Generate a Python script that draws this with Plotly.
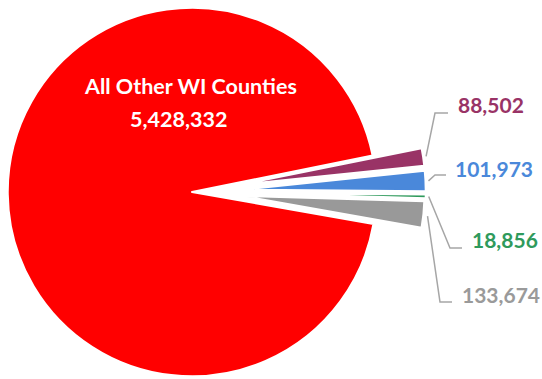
import math
import plotly.graph_objects as go

# ---- data ----
values = [5428332, 88502, 101973, 18856, 133674]
main_label = "All Other WI Counties"
slice_colors = ["#FF0000", "#993366", "#4A88DA", "#2F9A5C", "#999999"]
label_colors = ["#FFFFFF", "#993366", "#4A88DA", "#2F9A5C", "#9A9A9A"]
exploded = [False, True, True, True, True]

# ---- layout constants (pixels) ----
W, H = 542, 379
CX, CY, R = 192.0, 192.0, 184.25
PULL_PX = 49.5
ROTATION = 100.0
FONT = "Lato"


def px_x(x):
    return x / W


def px_y(y):
    return 1 - y / H


def fmt(v):
    return f"{v:,}"


total = sum(values)

# bisector angle of every slice (math convention), slices run clockwise
bisectors = []
acc = 90 - ROTATION
for v in values:
    span = 360.0 * v / total
    bisectors.append(acc - span / 2)
    acc -= span


def domain_for(cx, cy, r):
    x0, x1 = (cx - r) / W, (cx + r) / W
    y0, y1 = 1 - (cy + r) / H, 1 - (cy - r) / H
    return dict(x=[max(0.0, x0), min(1.0, x1)], y=[max(0.0, y0), min(1.0, y1)])


fig = go.Figure()

# one pie per slice so exploded slices can be offset along their own bisector
for i, v in enumerate(values):
    ang = math.radians(bisectors[i])
    off = PULL_PX if exploded[i] else 0.0
    cx = CX + off * math.cos(ang)
    cy = CY - off * math.sin(ang)
    fig.add_trace(go.Pie(
        values=values,
        sort=False,
        direction="clockwise",
        rotation=ROTATION,
        marker=dict(
            colors=[slice_colors[j] if j == i else "rgba(0,0,0,0)" for j in range(len(values))],
            line=dict(color="white", width=[2 if j == i else 0 for j in range(len(values))]),
        ),
        textinfo="none",
        hoverinfo="skip",
        showlegend=False,
        domain=domain_for(cx, cy, R),
    ))

annotations = []
shapes = []

# label inside the large slice
annotations.append(dict(
    x=px_x(190), y=px_y(86), xref="paper", yref="paper",
    text=main_label, showarrow=False, xanchor="center", yanchor="middle",
    font=dict(family=FONT, size=21.5, color=label_colors[0], weight=700),
))
annotations.append(dict(
    x=px_x(178.5), y=px_y(119), xref="paper", yref="paper",
    text=fmt(values[0]), showarrow=False, xanchor="center", yanchor="middle",
    font=dict(family=FONT, size=21.5, color=label_colors[0], weight=700),
))

# outside labels with elbow leader lines
label_pos = [None, (490.5, 104.5), (494, 169), (504.5, 239), (501, 294.5)]
elbows = [None, ((435, 113), (448, 113)), ((435, 175), (446, 175)),
          ((450, 248), (462, 248)), ((440, 302), (452, 302))]

for i in range(1, len(values)):
    ang = math.radians(bisectors[i])
    dist = R + PULL_PX + 3
    sx = CX + dist * math.cos(ang)
    sy = CY - dist * math.sin(ang)
    (ex, ey), (hx, hy) = elbows[i]
    shapes.append(dict(
        type="path", xref="paper", yref="paper",
        path=f"M {px_x(sx)},{px_y(sy)} L {px_x(ex)},{px_y(ey)} L {px_x(hx)},{px_y(hy)}",
        line=dict(color="#A6A6A6", width=1.5),
    ))
    lx, ly = label_pos[i]
    annotations.append(dict(
        x=px_x(lx), y=px_y(ly), xref="paper", yref="paper",
        text=fmt(values[i]), showarrow=False, xanchor="center", yanchor="middle",
        font=dict(family=FONT, size=21, color=label_colors[i], weight=700),
    ))

fig.update_layout(
    width=W, height=H,
    margin=dict(l=0, r=0, t=0, b=0),
    paper_bgcolor="white", plot_bgcolor="white",
    annotations=annotations, shapes=shapes,
    showlegend=False,
)

fig.write_html("out.html")
